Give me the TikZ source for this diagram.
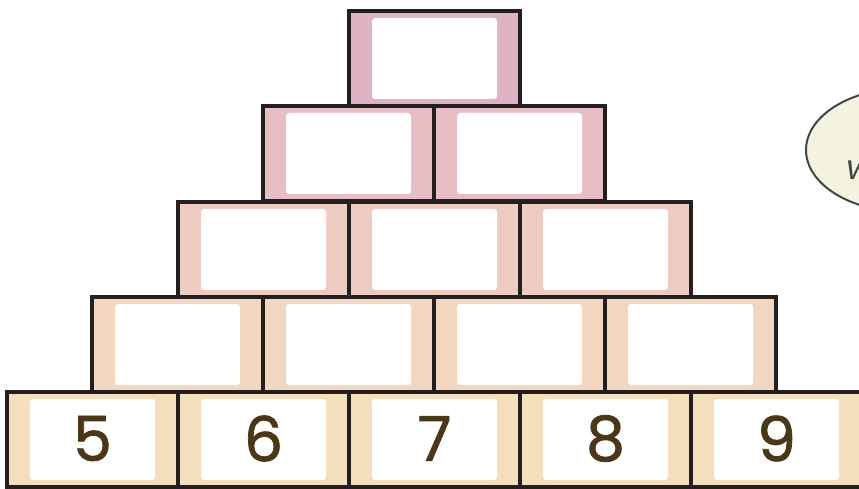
\documentclass[tikz,border=0pt]{standalone}
\usepackage{fontspec}
\usetikzlibrary{shapes.geometric}
\setmainfont{Poppins}
\definecolor{rowA}{HTML}{DFB3C3}
\definecolor{rowB}{HTML}{E6BEC3}
\definecolor{rowC}{HTML}{EDCBC0}
\definecolor{rowD}{HTML}{F2D6BF}
\definecolor{rowE}{HTML}{F5DEBB}
\definecolor{edge}{HTML}{231F20}
\definecolor{digit}{HTML}{4A3715}
\definecolor{bubble}{HTML}{F5F3DF}
\definecolor{bubbleedge}{HTML}{3F4848}
\tikzset{
  brick/.style={draw=edge, line width=3.2pt, minimum width=171pt, minimum height=95pt, inner sep=0pt, outer sep=0pt},
  slot/.style={fill=white, rounded corners=3pt, minimum width=125pt, minimum height=81pt, inner sep=0pt},
  numtxt/.style={font=\fontsize{62}{62}\selectfont\addfontfeature{FakeBold=1.2}, text=digit, inner sep=0pt},
}
\begin{document}
\begin{tikzpicture}[x=1pt,y=-1pt]
\useasboundingbox (0,0) rectangle (859,489);
\begin{scope}
\clip (0,0) rectangle (859,489);
% speech bubble
\node[draw=bubbleedge, line width=2pt, fill=bubble, ellipse, minimum width=200pt, minimum height=124pt, inner sep=0pt] (bub) at (906,150) {};
\node[anchor=west, font=\fontsize{34}{34}\selectfont\itshape, text=bubbleedge, inner sep=0pt] (bubtxt) at (846,170) {w};
% rows: row index r, y top, first x, count, colour
\foreach \r/\yt/\xs/\n/\col in {1/11/349/1/rowA, 2/106/263/2/rowB, 3/202/178/3/rowC, 4/297/92/4/rowD, 5/392/7/5/rowE}{
  \foreach \i in {1,...,\n}{
    \pgfmathsetmacro\xl{\xs+(\i-1)*171}
    \node[brick, fill=\col, anchor=north west] (b\r\i) at (\xl,\yt) {};
    \node[slot] (s\r\i) at (b\r\i.center) {};
  }
}
\node[numtxt] (n1) at ([yshift=1pt]s51.center) {5};
\node[numtxt] (n2) at ([yshift=1pt]s52.center) {6};
\node[numtxt] (n3) at ([yshift=1pt]s53.center) {7};
\node[numtxt] (n4) at ([yshift=1pt]s54.center) {8};
\node[numtxt] (n5) at ([yshift=1pt]s55.center) {9};
\end{scope}
\end{tikzpicture}
\end{document}
